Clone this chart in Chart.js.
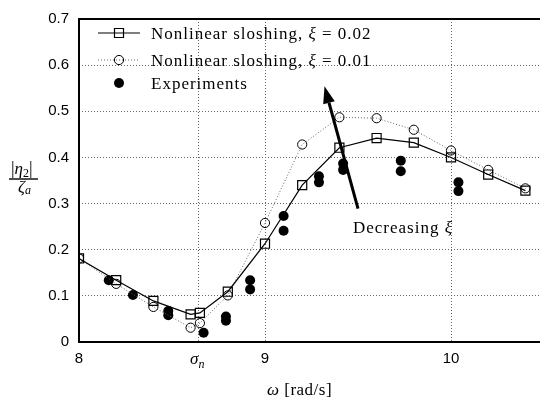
<!DOCTYPE html>
<html>
<head>
<meta charset="utf-8">
<script src="https://cdn.jsdelivr.net/npm/chart.js@4.4.0/dist/chart.umd.min.js"></script>
<style>
  html, body { margin: 0; padding: 0; background: #fff; overflow: hidden; }
</style>
</head>
<body>
<canvas id="grafico" width="560" height="402"></canvas>
<script>
// Datos (omega en rad/s, amplitud |eta2|/zeta_a)
const omega = [8.0, 8.2, 8.4, 8.6, 8.65, 8.8, 9.0, 9.2, 9.4, 9.6, 9.8, 10.0, 10.2, 10.4];
const amplitudXi002 = [0.181, 0.134, 0.089, 0.060, 0.063, 0.109, 0.213, 0.340, 0.421, 0.442, 0.432, 0.400, 0.363, 0.328];
const amplitudXi001 = [0.181, 0.126, 0.076, 0.031, 0.041, 0.101, 0.258, 0.428, 0.487, 0.485, 0.460, 0.415, 0.373, 0.333];
const omegaExp = [8.16, 8.29, 8.48, 8.48, 8.67, 8.79, 8.79, 8.92, 8.92, 9.10, 9.10, 9.29, 9.29, 9.42, 9.42, 9.73, 9.73, 10.04, 10.04];
const amplitudExp = [0.134, 0.102, 0.067, 0.058, 0.020, 0.055, 0.046, 0.134, 0.114, 0.273, 0.241, 0.359, 0.346, 0.387, 0.373, 0.393, 0.370, 0.346, 0.327];
const leyenda = ['Nonlinear sloshing, ξ = 0.02', 'Nonlinear sloshing, ξ = 0.01', 'Experiments'];
const sigmaN = 8.64;
const xTicks = [8, sigmaN, 9, 10];
const yTicks = [0, 0.1, 0.2, 0.3, 0.4, 0.5, 0.6, 0.7];
// flecha "Decreasing xi": [omega, amplitud]
const flechaInicio = [9.50, 0.289];
const flechaFin = [9.32, 0.554];

const serif = '"Liberation Serif", "Times New Roman", serif';

function textoMixto(ctx, partes, x, y) {
  for (const [t, f, dy] of partes) {
    ctx.font = f;
    ctx.fillText(t, x, y + (dy || 0));
    x += ctx.measureText(t).width;
  }
  return x;
}

function conXi(texto) {
  const [a, b] = texto.split('ξ');
  if (b === undefined) return [[a, '17px ' + serif]];
  return [[a, '17px ' + serif], ['ξ', 'italic 17px ' + serif], [b, '17px ' + serif]];
}

function marcador(ctx, tipo, x, y) {
  ctx.beginPath();
  if (tipo === 'rect') {
    ctx.lineWidth = 1.2;
    ctx.rect(x - 4.5, y - 4.5, 9, 9);
    ctx.stroke();
  } else if (tipo === 'circle') {
    ctx.lineWidth = 1;
    ctx.arc(x, y, 4.6, 0, Math.PI * 2);
    ctx.stroke();
  } else {
    ctx.arc(x, y, 5, 0, Math.PI * 2);
    ctx.fill();
  }
}

const decoracion = {
  id: 'decoracion',
  afterDraw(chart) {
    const { ctx, chartArea: a, scales: { x, y } } = chart;
    ctx.save();

    // marco (izquierda, abajo, arriba)
    ctx.strokeStyle = '#000';
    ctx.lineWidth = 2;
    ctx.setLineDash([]);
    ctx.beginPath();
    ctx.moveTo(a.right + 5, a.top);
    ctx.lineTo(a.left, a.top);
    ctx.lineTo(a.left, a.bottom);
    ctx.lineTo(a.right + 5, a.bottom);
    ctx.stroke();

    // leyenda
    const filas = [33, 60, 83];
    const estilos = ['rect', 'circle', 'dot'];
    ctx.fillStyle = '#000';
    ctx.textBaseline = 'alphabetic';
    ctx.textAlign = 'left';
    filas.forEach((fy, i) => {
      if (i < 2) {
        ctx.beginPath();
        ctx.strokeStyle = i === 0 ? '#000' : '#666';
        ctx.lineWidth = i === 0 ? 1.2 : 1;
        ctx.setLineDash(i === 0 ? [] : [1, 2]);
        ctx.moveTo(98, fy);
        ctx.lineTo(140, fy);
        ctx.stroke();
        ctx.setLineDash([]);
      }
      ctx.strokeStyle = '#000';
      marcador(ctx, estilos[i], 119, fy);
      ctx.letterSpacing = '1px';
      textoMixto(ctx, conXi(leyenda[i]), 151, fy + 6);
      ctx.letterSpacing = '0px';
    });

    // flecha
    const x0 = x.getPixelForValue(flechaInicio[0]), y0 = y.getPixelForValue(flechaInicio[1]);
    const x1 = x.getPixelForValue(flechaFin[0]), y1 = y.getPixelForValue(flechaFin[1]);
    const ang = Math.atan2(y1 - y0, x1 - x0);
    const largo = 17, ancho = 6;
    const bx = x1 - largo * Math.cos(ang), by = y1 - largo * Math.sin(ang);
    ctx.beginPath();
    ctx.lineWidth = 3;
    ctx.strokeStyle = '#000';
    ctx.moveTo(x0, y0);
    ctx.lineTo(bx, by);
    ctx.stroke();
    ctx.beginPath();
    ctx.moveTo(x1, y1);
    ctx.lineTo(bx + ancho * Math.sin(ang), by - ancho * Math.cos(ang));
    ctx.lineTo(bx - ancho * Math.sin(ang), by + ancho * Math.cos(ang));
    ctx.closePath();
    ctx.fill();

    ctx.letterSpacing = '1px';
    textoMixto(ctx, [['Decreasing ', '17px ' + serif], ['ξ', 'italic 17px ' + serif]], 353, 233);
    ctx.letterSpacing = '0px';

    // etiqueta sigma_n en el eje x
    const sx = x.getPixelForValue(sigmaN);
    textoMixto(ctx, [['σ', 'italic 17px ' + serif], ['n', 'italic 12px ' + serif, 4]], sx - 8, 364);

    // titulo eje x
    ctx.letterSpacing = '0.5px';
    textoMixto(ctx, [['ω', 'italic 17px ' + serif], [' [rad/s]', '17px ' + serif]], 267, 395);
    ctx.letterSpacing = '0px';

    // titulo eje y: |eta2| / zeta_a
    textoMixto(ctx, [['|', '18px ' + serif], ['η', 'italic 17px ' + serif], ['2', '12px ' + serif, 3], ['|', '18px ' + serif]], 11, 174);
    ctx.beginPath();
    ctx.lineWidth = 1.4;
    ctx.moveTo(9, 179);
    ctx.lineTo(38, 179);
    ctx.stroke();
    textoMixto(ctx, [['ζ', 'italic 17px ' + serif], ['a', 'italic 12px ' + serif, 2]], 18, 192);

    ctx.restore();
  }
};

const config = {
  type: 'scatter',
  data: {
    datasets: [
      {
        label: leyenda[0],
        data: omega.map((w, i) => ({ x: w, y: amplitudXi002[i] })),
        showLine: true,
        borderColor: '#000',
        borderWidth: 1.2,
        pointStyle: 'rect',
        pointRadius: 6.4,
        pointBorderWidth: 1.2,
        pointBorderColor: '#000',
        pointBackgroundColor: 'rgba(0,0,0,0)'
      },
      {
        label: leyenda[1],
        data: omega.map((w, i) => ({ x: w, y: amplitudXi001[i] })),
        showLine: true,
        borderColor: '#666',
        borderWidth: 1,
        borderDash: [1, 2],
        pointStyle: 'circle',
        pointRadius: 4.6,
        pointBorderWidth: 1,
        pointBorderColor: '#000',
        pointBackgroundColor: 'rgba(0,0,0,0)'
      },
      {
        label: leyenda[2],
        data: omegaExp.map((w, i) => ({ x: w, y: amplitudExp[i] })),
        showLine: false,
        pointStyle: 'circle',
        pointRadius: 5,
        pointBorderWidth: 0,
        pointBackgroundColor: '#000'
      }
    ]
  },
  options: {
    responsive: false,
    animation: false,
    layout: { padding: { top: 15, right: 16, left: 0, bottom: 0 } },
    plugins: { legend: { display: false }, tooltip: { enabled: false } },
    scales: {
      x: {
        type: 'linear',
        min: 8,
        max: 10.5,
        afterBuildTicks: (axis) => { axis.ticks = xTicks.map(v => ({ value: v })); },
        afterFit: (axis) => { axis.height = 60; },
        grid: { color: '#666', lineWidth: 1, drawTicks: false },
        border: { display: false, dash: [1, 2] },
        ticks: {
          padding: 8,
          color: '#000',
          font: { family: '"Liberation Sans", Arial, sans-serif', size: 15 },
          callback: (v) => (v === sigmaN ? '' : String(v))
        }
      },
      y: {
        min: 0,
        max: 0.7,
        afterBuildTicks: (axis) => { axis.ticks = yTicks.map(v => ({ value: v })); },
        afterFit: (axis) => { axis.width = 79; },
        grid: { color: '#666', lineWidth: 1, drawTicks: false },
        border: { display: false, dash: [1, 2] },
        ticks: {
          padding: 10,
          color: '#000',
          font: { family: '"Liberation Sans", Arial, sans-serif', size: 15 },
          callback: (v) => (v === 0 ? '0' : v.toFixed(1))
        }
      }
    }
  },
  plugins: [decoracion]
};

new Chart(document.getElementById('grafico'), config);
</script>
</body>
</html>
